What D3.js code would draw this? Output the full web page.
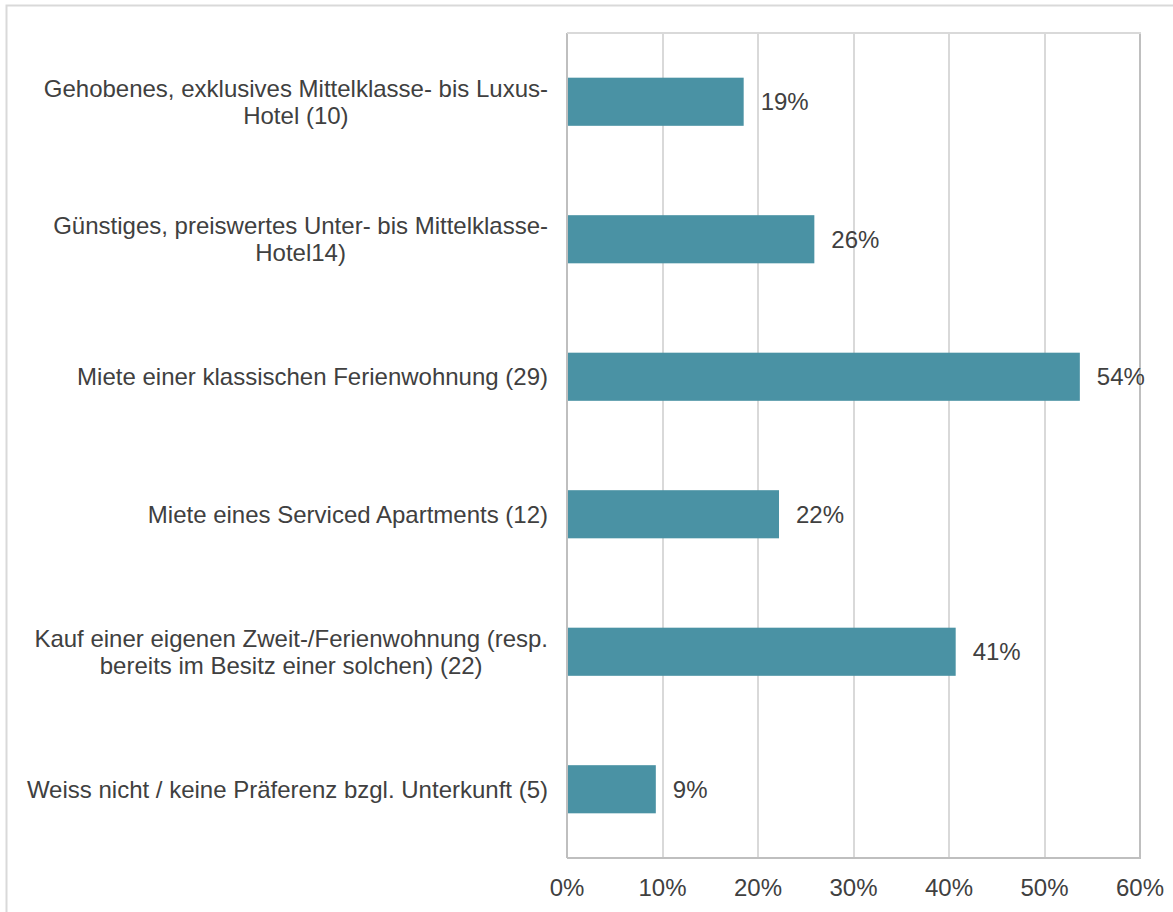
<!DOCTYPE html>
<html>
<head>
<meta charset="utf-8">
<script src="https://cdn.jsdelivr.net/npm/d3@7"></script>
<style>
  body { margin: 0; background: #fff; }
  svg { display: block; }
</style>
</head>
<body>
<script>
/* ========= Data ========= */
var categories = [
    ["Gehobenes, exklusives Mittelklasse- bis Luxus-", "Hotel (10)"],
    ["Günstiges, preiswertes Unter- bis Mittelklasse-", "Hotel14)"],
    ["Miete einer klassischen Ferienwohnung (29)"],
    ["Miete eines Serviced Apartments (12)"],
    ["Kauf einer eigenen Zweit-/Ferienwohnung (resp.", "bereits im Besitz einer solchen) (22)"],
    ["Weiss nicht / keine Präferenz bzgl. Unterkunft (5)"]
];
var values = [18.5, 25.9, 53.7, 22.2, 40.7, 9.3];
var valueLabels = ["19%", "26%", "54%", "22%", "41%", "9%"];
var xTicks = [0, 10, 20, 30, 40, 50, 60];

/* ========= Constants ========= */
var w = 1173;
var h = 912;
var barColor = "#4a92a4";
var gridColor = "#d9d9d9";
var frameColor = "#bfbfbf";
var textColor = "#404040";
var fontFamily = "'Liberation Sans', Arial, sans-serif";
var fontSize = "24px";
var plotLeft = 567, plotRight = 1140, plotTop = 33, plotBottom = 858;

var svg = d3.select("body")
    .append("svg")
    .attr("width", w)
    .attr("height", h);

// outer chart border
svg.append("rect")
    .attr("x", 6.5)
    .attr("y", 5.5)
    .attr("width", w + 20)
    .attr("height", h + 20)
    .attr("fill", "none")
    .attr("stroke", gridColor)
    .attr("stroke-width", 2);

/* ========= Scales ========= */
var xScale = d3.scaleLinear()
    .domain([0, 60])
    .range([plotLeft, plotRight]);
var yScale = d3.scaleBand()
    .domain(d3.range(categories.length))
    .range([plotTop, plotBottom])
    .paddingInner(0.65)
    .paddingOuter(0.325);

/* ========= Grid ========= */
svg.append("g")
    .selectAll("line")
    .data(xTicks)
    .enter()
    .append("line")
    .attr("x1", function (d) { return Math.round(xScale(d)); })
    .attr("x2", function (d) { return Math.round(xScale(d)); })
    .attr("y1", plotTop)
    .attr("y2", plotBottom)
    .attr("stroke", function (d) { return (d === 0 || d === 60) ? frameColor : gridColor; })
    .attr("stroke-width", 2);

// top and bottom frame
svg.append("line")
    .attr("x1", plotLeft).attr("x2", plotRight + 1)
    .attr("y1", plotTop).attr("y2", plotTop)
    .attr("stroke", gridColor).attr("stroke-width", 2);
svg.append("line")
    .attr("x1", plotLeft).attr("x2", plotRight + 1)
    .attr("y1", plotBottom).attr("y2", plotBottom)
    .attr("stroke", frameColor).attr("stroke-width", 2);

/* ========= Bars ========= */
svg.append("g")
    .selectAll("rect")
    .data(values)
    .enter()
    .append("rect")
    .attr("x", xScale(0) + 1)
    .attr("y", function (d, i) { return yScale(i); })
    .attr("width", function (d) { return xScale(d) - xScale(0) - 1; })
    .attr("height", yScale.bandwidth())
    .attr("fill", barColor);

// value labels
svg.append("g")
    .selectAll("text")
    .data(values)
    .enter()
    .append("text")
    .attr("x", function (d) { return xScale(d) + 17; })
    .attr("y", function (d, i) { return yScale(i) + yScale.bandwidth() / 2; })
    .attr("dy", "0.35em")
    .text(function (d, i) { return valueLabels[i]; })
    .attr("font-family", fontFamily)
    .attr("font-size", fontSize)
    .attr("fill", textColor);

/* ========= Category labels ========= */
// block right-aligned against the axis, lines centred within the block
var labelRight = 548;
var lineHeight = 27;
categories.forEach(function (lines, i) {
    var cy = yScale(i) + yScale.bandwidth() / 2;
    var startY = cy - (lines.length - 1) * lineHeight / 2;
    var t = svg.append("text")
        .attr("text-anchor", "middle")
        .attr("font-family", fontFamily)
        .attr("font-size", fontSize)
        .attr("fill", textColor);
    var spans = lines.map(function (line, j) {
        return t.append("tspan")
            .attr("y", startY + j * lineHeight)
            .attr("dy", "0.35em")
            .text(line);
    });
    var maxW = d3.max(spans, function (s) { return s.node().getComputedTextLength(); });
    spans.forEach(function (s) { s.attr("x", labelRight - maxW / 2); });
});

/* ========= X tick labels ========= */
svg.append("g")
    .selectAll("text")
    .data(xTicks)
    .enter()
    .append("text")
    .attr("x", function (d) { return xScale(d); })
    .attr("y", 888)
    .attr("dy", "0.35em")
    .attr("text-anchor", "middle")
    .text(function (d) { return d + "%"; })
    .attr("font-family", fontFamily)
    .attr("font-size", fontSize)
    .attr("fill", textColor);
</script>
</body>
</html>
